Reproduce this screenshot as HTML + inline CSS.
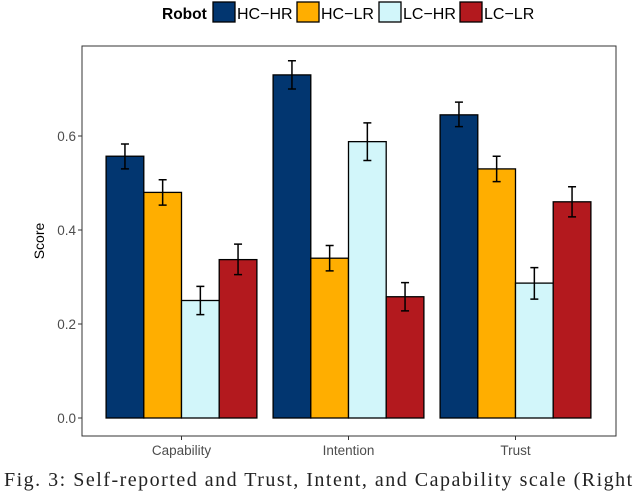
<!DOCTYPE html>
<html><head><meta charset="utf-8"><style>
body{margin:0;background:#fff;width:640px;height:482px;overflow:hidden;position:relative;font-family:"Liberation Sans",sans-serif}
svg{position:absolute;left:0;top:0}
.cap{position:absolute;left:4px;top:470px;font-family:"Liberation Serif",serif;font-size:20px;line-height:20px;color:#222;white-space:nowrap;letter-spacing:1.5px}
</style></head><body>
<svg width="640" height="482" id="chart"></svg>
<div class="cap">Fig. 3:  Self-reported and Trust, Intent, and Capability scale (Right</div>
<script>
const categories=["Capability","Intention","Trust"];
const groups=["HC-HR","HC-LR","LC-HR","LC-LR"];
const colors=["#023670","#FFAE00","#D2F6FA","#B3191E"];
const hchr=[0.557,0.730,0.645];
const hclr=[0.480,0.340,0.530];
const lchr=[0.250,0.588,0.287];
const lclr=[0.337,0.258,0.460];
const errLow=[[0.530,0.700,0.620],[0.453,0.313,0.503],[0.220,0.548,0.253],[0.305,0.228,0.428]];
const errHigh=[[0.583,0.760,0.672],[0.507,0.367,0.557],[0.280,0.628,0.320],[0.370,0.288,0.492]];
const yTicks=[0.0,0.2,0.4,0.6];
const series=[hchr,hclr,lchr,lclr];
const NS="http://www.w3.org/2000/svg";
const svg=document.getElementById('chart');
const L=82,R=616,T=46,B=436;
const y=v=>418-v*470;
const x=i=>181.5+i*167;
const bw=37.7;
function mk(t,a,p){const e=document.createElementNS(NS,t);for(const k in a)e.setAttribute(k,a[k]);(p||svg).appendChild(e);return e;}
const panel=mk('rect',{x:L,y:T,width:R-L,height:B-T,fill:'none',stroke:'#333','stroke-width':1});


yTicks.forEach(v=>{
  const tk=mk('line',{x1:L-4,x2:L,y1:y(v),y2:y(v),stroke:'#333'});
  
  
  const t=mk('text',{x:L-6,y:y(v)+5,'text-anchor':'end','font-size':13.5,fill:'#4d4d4d'});
  t.textContent=v.toFixed(1);
  
  
});
categories.forEach((c,i)=>{
  const tk=mk('line',{x1:x(i),x2:x(i),y1:B,y2:B+4,stroke:'#333'});
  
  
  const t=mk('text',{x:x(i),y:B+19,'text-anchor':'middle','font-size':13.5,fill:'#4d4d4d'});
  t.textContent=c;
  
  
  series.forEach((s,g)=>{
    const bx=x(i)-2*bw+g*bw;
    const r=mk('rect',{x:bx,y:y(s[i]),width:bw,height:y(0)-y(s[i]),fill:colors[g],stroke:'#000','stroke-width':1.3});
    
    
    const cx=bx+bw/2,y1=y(errLow[g][i]),y2=y(errHigh[g][i]);
    const e=mk('path',{d:`M${cx-4},${y1}H${cx+4}M${cx},${y1}V${y2}M${cx-4},${y2}H${cx+4}`,stroke:'#000','stroke-width':1.5,fill:'none'});
    
    
  });
});
const yt=mk('text',{x:0,y:0,transform:'translate(44,241) rotate(-90)','text-anchor':'middle','font-size':14,fill:'#000'});
yt.textContent='Score';


const lt=mk('text',{x:162,y:19,'font-size':15.5,'font-weight':'bold',fill:'#000'});
lt.textContent='Robot';


const kx=[213,297,379,460];
groups.forEach((g,i)=>{
  const k=mk('rect',{x:kx[i],y:2,width:22,height:20,fill:colors[i],stroke:'#000','stroke-width':1.3});
  
  
  const t=mk('text',{x:kx[i]+24,y:19,'font-size':16,fill:'#000'});
  t.textContent=g.replace('-','\u2212');
  
  
});
</script>
</body></html>
